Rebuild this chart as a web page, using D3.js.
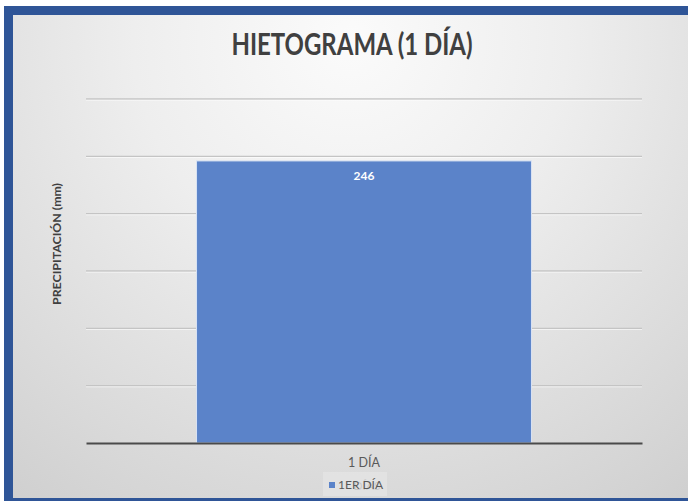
<!DOCTYPE html>
<html>
<head>
<meta charset="utf-8">
<script src="https://cdn.jsdelivr.net/npm/d3@7"></script>
<style>
  html, body { margin: 0; padding: 0; background: #ffffff; }
  svg { display: block; }
</style>
</head>
<body>
<svg id="chart" width="688" height="501"></svg>
<script>
// Data
const categories = ["1 DÍA"];
const seriesName = "1ER DÍA";
const values = [246];
const yTicks = [0, 50, 100, 150, 200, 250, 300];

const W = 688, H = 501;
const FONT = "Lato, 'Open Sans', sans-serif";
const svg = d3.select("#chart");
const defs = svg.append("defs");

// Frame background: radial light-to-gray wash
const grad = defs.append("radialGradient")
  .attr("id", "bg")
  .attr("gradientUnits", "userSpaceOnUse")
  .attr("cx", 350).attr("cy", 40).attr("r", 620);
grad.append("stop").attr("offset", "0%").attr("stop-color", "#fbfbfb");
grad.append("stop").attr("offset", "35%").attr("stop-color", "#eeeeee");
grad.append("stop").attr("offset", "100%").attr("stop-color", "#cbcbcb");

// Blue outer frame
svg.append("rect").attr("x", 4).attr("y", 6).attr("width", W - 4).attr("height", H - 6)
  .attr("fill", "#2f5597");
svg.append("rect").attr("x", 13).attr("y", 15).attr("width", W - 13).attr("height", 483)
  .attr("fill", "url(#bg)");

// Plot area
const plot = { left: 86, right: 642, top: 99, bottom: 443 };

const x = d3.scaleBand()
  .domain(categories)
  .range([plot.left, plot.right])
  .paddingInner(0)
  .paddingOuter(0.33);

const y = d3.scaleLinear()
  .domain([0, 300])
  .range([plot.bottom, plot.top]);

// Gridlines
const grid = svg.append("g");
grid.selectAll("line.g")
  .data(yTicks.filter(d => d > 0))
  .join("line")
  .attr("class", "g")
  .attr("x1", plot.left).attr("x2", plot.right)
  .attr("y1", d => y(d)).attr("y2", d => y(d))
  .attr("stroke", "#c4c4c4").attr("stroke-width", 1.3);
grid.selectAll("line.h")
  .data(yTicks.filter(d => d > 0))
  .join("line")
  .attr("class", "h")
  .attr("x1", plot.left).attr("x2", plot.right)
  .attr("y1", d => y(d) + 1.2).attr("y2", d => y(d) + 1.2)
  .attr("stroke", "#ffffff").attr("stroke-opacity", 0.6).attr("stroke-width", 1);

// Bars
svg.append("g").selectAll("rect")
  .data(values)
  .join("rect")
  .attr("x", (d, i) => x(categories[i]))
  .attr("y", d => y(d))
  .attr("width", x.bandwidth())
  .attr("height", d => y(0) - y(d))
  .attr("fill", "#5b83c9")
  .attr("stroke", "#d9e3f4")
  .attr("stroke-width", 1);

// Value labels
svg.append("g").selectAll("text")
  .data(values)
  .join("text")
  .attr("x", (d, i) => x(categories[i]) + x.bandwidth() / 2)
  .attr("y", d => y(d) + 19)
  .attr("text-anchor", "middle")
  .attr("font-family", FONT)
  .attr("font-weight", "bold")
  .attr("font-size", 12)
  .attr("fill", "#ffffff")
  .text(d => d);

// Category axis
const xAxis = svg.append("g")
  .attr("transform", `translate(0,${plot.bottom})`)
  .call(d3.axisBottom(x).tickSize(0).tickPadding(15));
xAxis.select(".domain").attr("stroke", "#4a4a4a").attr("stroke-width", 2.2);
xAxis.selectAll("text")
  .attr("font-family", FONT)
  .attr("font-size", 12.5)
  .attr("fill", "#595959");

// Axis titles
svg.append("text")
  .attr("x", 367).attr("y", 490)
  .attr("text-anchor", "middle")
  .attr("font-family", FONT)
  .attr("font-size", 12)
  .attr("fill", "#8a8a8a")
  .text("DÍAS");

svg.append("text")
  .attr("transform", "translate(61,244) rotate(-90)")
  .attr("text-anchor", "middle")
  .attr("font-family", FONT)
  .attr("font-weight", "bold")
  .attr("font-size", 12)
  .attr("textLength", 122)
  .attr("lengthAdjust", "spacingAndGlyphs")
  .attr("fill", "#404040")
  .text("PRECIPITACIÓN (mm)");

// Title
svg.append("text")
  .attr("x", 352).attr("y", 55)
  .attr("text-anchor", "middle")
  .attr("font-family", FONT)
  .attr("font-weight", "bold")
  .attr("font-size", 30)
  .attr("textLength", 241)
  .attr("lengthAdjust", "spacingAndGlyphs")
  .attr("fill", "#404040")
  .text("HIETOGRAMA (1 DÍA)");

// Legend
const legend = svg.append("g");
legend.append("rect")
  .attr("x", 323).attr("y", 472).attr("width", 64).attr("height", 24)
  .attr("fill", "#e6e6e6").attr("fill-opacity", 0.7);
legend.append("rect")
  .attr("x", 329).attr("y", 482).attr("width", 6).attr("height", 6)
  .attr("fill", "#5b83c9");
legend.append("text")
  .attr("x", 338).attr("y", 489)
  .attr("font-family", FONT)
  .attr("font-size", 12)
  .attr("fill", "#595959")
  .text(seriesName);
</script>
</body>
</html>
